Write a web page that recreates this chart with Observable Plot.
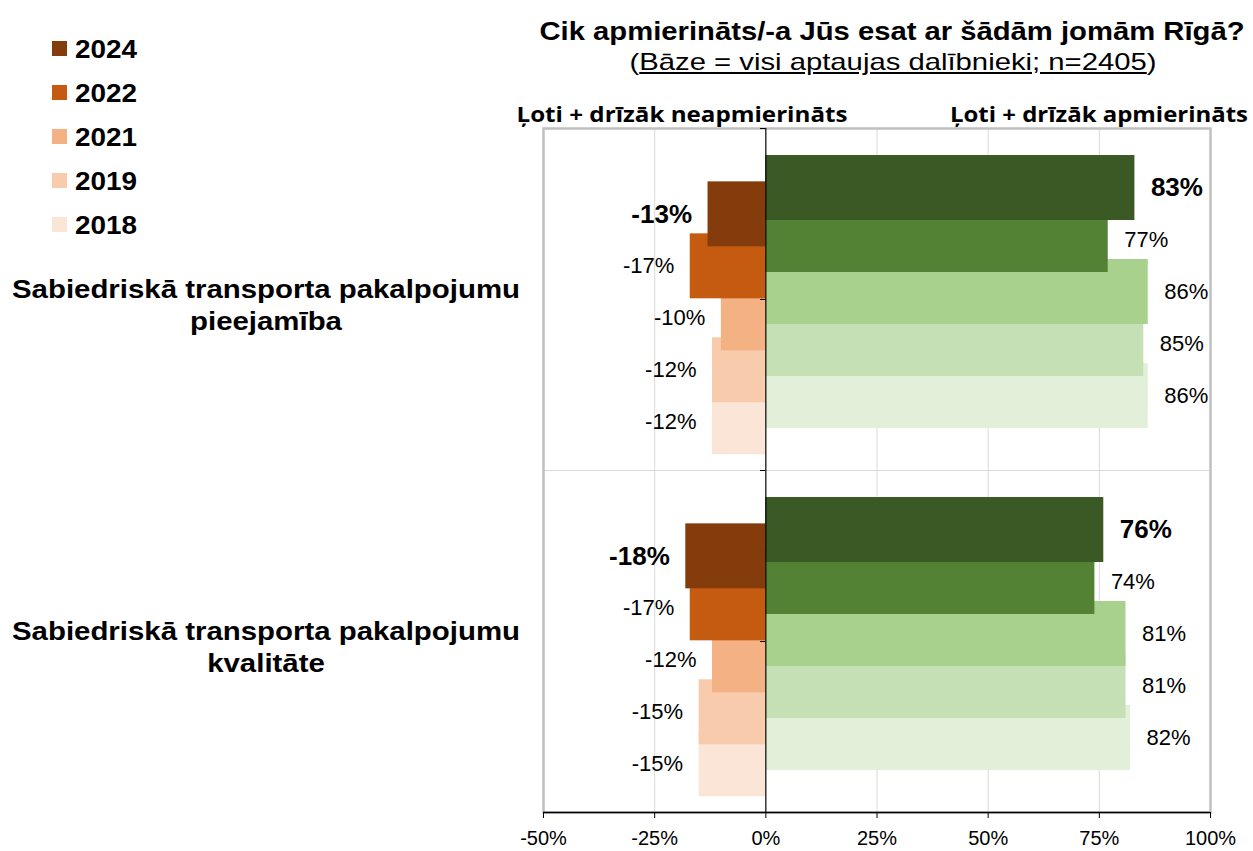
<!DOCTYPE html>
<html><head><meta charset="utf-8">
<script src="https://cdn.jsdelivr.net/npm/d3@7"></script>
<script src="https://cdn.jsdelivr.net/npm/@observablehq/plot@0.6"></script>
<style>
body{margin:0;background:#fff;font-family:"Liberation Sans",Arial,sans-serif;}
#wrap{position:relative;width:1253px;height:851px;overflow:hidden;background:#fff}
#wrap svg{position:absolute;left:0;top:0}
.abs{position:absolute;left:0;top:0;white-space:nowrap;line-height:1;color:#000}
</style></head><body><div id="wrap"></div>
<script>
// ---- data ----
const categories = ["Sabiedriskā transporta pakalpojumu\npieejamība", "Sabiedriskā transporta pakalpojumu\nkvalitāte"];
const years = ["2024", "2022", "2021", "2019", "2018"];
const satisfied = [[83, 77, 86, 85, 86], [76, 74, 81, 81, 82]];
const dissatisfied = [[-13, -17, -10, -12, -12], [-18, -17, -12, -15, -15]];
const greenColors = ["#3a5924", "#548235", "#a9d18e", "#c5e0b4", "#e2efd9"];
const orangeColors = ["#843c0c", "#c55a11", "#f4b183", "#f8cbad", "#fbe5d6"];
const xTicks = [-50, -25, 0, 25, 50, 75, 100];
const gridTicks = [-25, 25, 50, 75];
const titleText = "Cik apmierināts/-a Jūs esat ar šādām jomām Rīgā?";
const subtitleText = "Bāze = visi aptaujas dalībnieki; n=2405";
const leftHeader = "Ļoti + drīzāk neapmierināts";
const rightHeader = "Ļoti + drīzāk apmierināts";

// ---- layout (fractions of one category band) ----
const POS0 = 0.174, NEG0 = 0.251, STEP = 0.152, HALF = 0.095;

const bars = [];
categories.forEach((cat, c) => years.forEach((yr, i) => {
  bars.push({c, i, year: yr, value: satisfied[c][i], fill: greenColors[i], yc: c + POS0 + STEP * i, side: "pos"});
  bars.push({c, i, year: yr, value: dissatisfied[c][i], fill: orangeColors[i], yc: c + NEG0 + STEP * i, side: "neg"});
}));
bars.sort((a, b) => b.i - a.i);
const pos = bars.filter(d => d.side === "pos");
const neg = bars.filter(d => d.side === "neg");
const pct = d => `${d.value}%`;

const chart = Plot.plot({
  width: 1253, height: 851,
  marginLeft: 543, marginRight: 43, marginTop: 128, marginBottom: 39,
  x: {domain: [-50, 100], axis: null, label: null},
  y: {domain: [0, categories.length], reverse: true, axis: null, label: null},
  color: {type: "identity"},
  style: {fontFamily: "'Liberation Sans', Arial, sans-serif", background: "transparent", color: "#000"},
  marks: [
    Plot.ruleX(gridTicks, {stroke: "#d9d9d9", strokeWidth: 1}),
    Plot.ruleY(d3.range(1, categories.length), {stroke: "#d9d9d9", strokeWidth: 1}),
    Plot.frame({stroke: "#c0c0c0", strokeWidth: 2.5}),
    Plot.rect(bars, {x1: 0, x2: "value", y1: d => d.yc - HALF, y2: d => d.yc + HALF, fill: "fill"}),
    Plot.ruleX([0], {stroke: "#000", strokeWidth: 1.2}),
    Plot.ruleY(d3.range(0, categories.length + 0.01, 0.5), {x1: 0, x2: -1.2, stroke: "#000", strokeWidth: 1}),
    Plot.ruleY([categories.length], {stroke: "#000", strokeWidth: 1.5}),
    Plot.axisX({ticks: xTicks, tickFormat: d => `${d}%`, tickSize: 6, tickPadding: 12, fontSize: 20, stroke: "#000", color: "#000", label: null}),
    // labels
    Plot.text(pos.filter(d => d.i === 0), {x: "value", y: "yc", text: pct, textAnchor: "start", dx: 16, fontSize: 26, fontWeight: "bold", fill: "#000"}),
    Plot.text(pos.filter(d => d.i !== 0), {x: "value", y: "yc", text: pct, textAnchor: "start", dx: 16, fontSize: 22, fill: "#000"}),
    Plot.text(neg.filter(d => d.i === 0), {x: "value", y: "yc", text: pct, textAnchor: "end", dx: -16, fontSize: 26, fontWeight: "bold", fill: "#000"}),
    Plot.text(neg.filter(d => d.i !== 0), {x: "value", y: "yc", text: pct, textAnchor: "end", dx: -16, fontSize: 22, fill: "#000"})
  ]
});
const wrap = document.getElementById("wrap");
wrap.appendChild(chart);

// ---- HTML text helpers ----
function place(html, {x, y, anchor = "middle", w = null, s = null, size = 24, weight = "bold", family = "'Liberation Sans', Arial, sans-serif"}) {
  const el = document.createElement("div");
  el.className = "abs";
  el.innerHTML = html;
  el.style.fontSize = size + "px";
  el.style.fontWeight = weight;
  el.style.fontFamily = family;
  wrap.appendChild(el);
  const r = el.getBoundingClientRect();
  const k = s != null ? s : (w ? w / r.width : 1);
  const width = r.width * k;
  const left = anchor === "middle" ? x - width / 2 : anchor === "start" ? x : x - width;
  el.style.transformOrigin = "0 0";
  el.style.transform = `translate(${left}px, ${y - r.height / 2}px) scaleX(${k})`;
  return {el, k, natural: r.width};
}

// title
place(titleText, {x: 892, y: 31, w: 705, size: 25});
place(`(<span style="text-decoration:underline;text-underline-offset:2px">${subtitleText}</span>)`, {x: 893, y: 62, w: 527, size: 24, weight: "normal"});
// side headers
place(leftHeader, {x: 682, y: 113, w: 331, size: 22, family: "'Open Sans', 'Noto Sans', sans-serif"});
place(rightHeader, {x: 1099, y: 113, w: 298, size: 22, family: "'Open Sans', 'Noto Sans', sans-serif"});

// legend
years.forEach((yr, i) => {
  const sq = document.createElement("div");
  sq.className = "abs";
  sq.style.width = "15px"; sq.style.height = "15px";
  sq.style.background = orangeColors[i];
  sq.style.transform = `translate(52px, ${41 + 44 * i}px)`;
  wrap.appendChild(sq);
  place(yr, {x: 75, y: 48.5 + 44 * i, anchor: "start", w: 62, size: 26});
});

// category labels
const yScale = chart.scale("y");
categories.forEach((cat, c) => {
  const [l1, l2] = cat.split("\n");
  const cy = yScale.apply(c + 0.5) + 6;
  const a = place(l1, {x: 266, y: cy - 16, w: 508, size: 26});
  place(l2, {x: 266, y: cy + 16, s: a.k, size: 26});
});
</script></body></html>
